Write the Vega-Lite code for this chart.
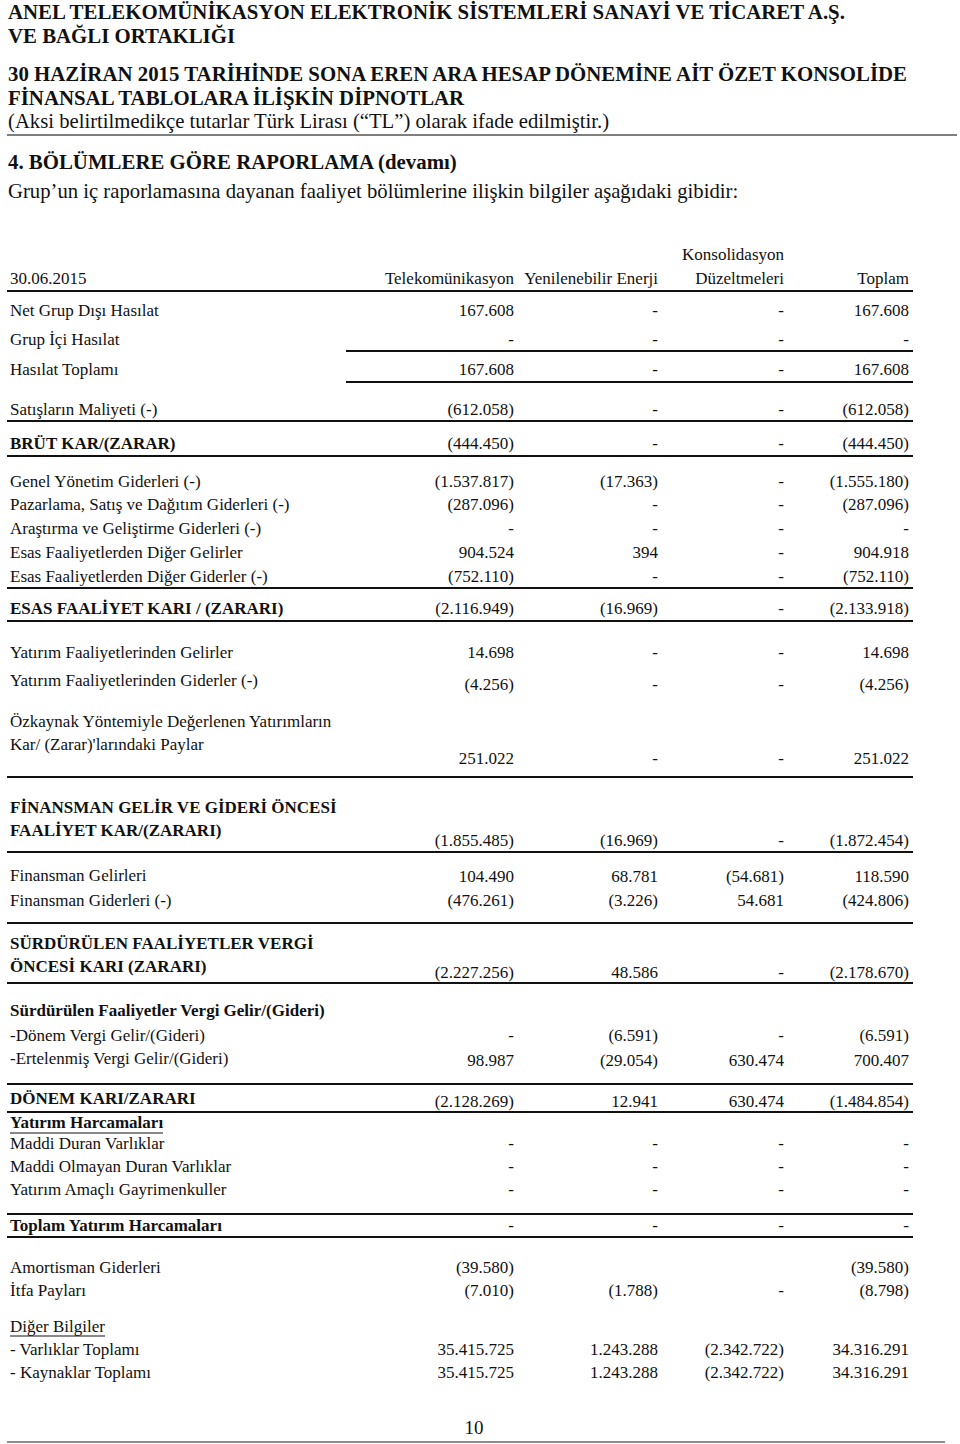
{
  "$schema": "https://vega.github.io/schema/vega-lite/v6.json",
  "width": 960,
  "height": 1444,
  "padding": 0,
  "autosize": {"type": "none"},
  "background": "white",
  "config": {"view": {"stroke": null}, "text": {"font": "Liberation Serif", "color": "#111111"}},
  "datasets": {
    "page": [
      {"text": "ANEL TELEKOMÜNİKASYON ELEKTRONİK SİSTEMLERİ SANAYİ VE TİCARET A.Ş.", "line": 13, "kind": "title"},
      {"text": "VE BAĞLI ORTAKLIĞI", "line": 37, "kind": "title"},
      {"text": "30 HAZİRAN 2015 TARİHİNDE SONA EREN ARA HESAP DÖNEMİNE AİT ÖZET KONSOLİDE", "line": 75, "kind": "title"},
      {"text": "FİNANSAL TABLOLARA İLİŞKİN DİPNOTLAR", "line": 99, "kind": "title"},
      {"text": "(Aksi belirtilmedikçe tutarlar Türk Lirası (“TL”) olarak ifade edilmiştir.)", "line": 122, "kind": "note"},
      {"text": "4. BÖLÜMLERE GÖRE RAPORLAMA (devamı)", "line": 163, "kind": "title"},
      {"text": "Grup’un iç raporlamasına dayanan faaliyet bölümlerine ilişkin bilgiler aşağıdaki gibidir:", "line": 192, "kind": "note"},
      {"text": "10", "line": 1428, "kind": "pageno"}
    ],
    "table": [
      {"item": "30.06.2015", "line": 279, "kind": "normal", "vline": 279, "tel": "Telekomünikasyon", "yen": "Yenilenebilir Enerji", "kon": "Düzeltmeleri", "top": "Toplam"},
      {"item": null, "line": 255, "kind": "normal", "vline": 255, "tel": null, "yen": null, "kon": "Konsolidasyon", "top": null},
      {"item": "Net Grup Dışı Hasılat", "line": 311, "kind": "normal", "vline": 311, "tel": "167.608", "yen": "-", "kon": "-", "top": "167.608"},
      {"item": "Grup İçi Hasılat", "line": 340, "kind": "normal", "vline": 340, "tel": "-", "yen": "-", "kon": "-", "top": "-"},
      {"item": "Hasılat Toplamı", "line": 370, "kind": "normal", "vline": 370, "tel": "167.608", "yen": "-", "kon": "-", "top": "167.608"},
      {"item": "Satışların Maliyeti (-)", "line": 410, "kind": "normal", "vline": 410, "tel": "(612.058)", "yen": "-", "kon": "-", "top": "(612.058)"},
      {"item": "BRÜT KAR/(ZARAR)", "line": 444, "kind": "bold", "vline": 444, "tel": "(444.450)", "yen": "-", "kon": "-", "top": "(444.450)"},
      {"item": "Genel Yönetim Giderleri (-)", "line": 482, "kind": "normal", "vline": 482, "tel": "(1.537.817)", "yen": "(17.363)", "kon": "-", "top": "(1.555.180)"},
      {"item": "Pazarlama, Satış ve Dağıtım Giderleri (-)", "line": 505, "kind": "normal", "vline": 505, "tel": "(287.096)", "yen": "-", "kon": "-", "top": "(287.096)"},
      {"item": "Araştırma ve Geliştirme Giderleri (-)", "line": 529, "kind": "normal", "vline": 529, "tel": "-", "yen": "-", "kon": "-", "top": "-"},
      {"item": "Esas Faaliyetlerden Diğer Gelirler", "line": 553, "kind": "normal", "vline": 553, "tel": "904.524", "yen": "394", "kon": "-", "top": "904.918"},
      {"item": "Esas Faaliyetlerden Diğer Giderler (-)", "line": 577, "kind": "normal", "vline": 577, "tel": "(752.110)", "yen": "-", "kon": "-", "top": "(752.110)"},
      {"item": "ESAS FAALİYET KARI / (ZARARI)", "line": 609, "kind": "bold", "vline": 609, "tel": "(2.116.949)", "yen": "(16.969)", "kon": "-", "top": "(2.133.918)"},
      {"item": "Yatırım Faaliyetlerinden Gelirler", "line": 653, "kind": "normal", "vline": 653, "tel": "14.698", "yen": "-", "kon": "-", "top": "14.698"},
      {"item": "Yatırım Faaliyetlerinden Giderler (-)", "line": 681, "kind": "normal", "vline": 685, "tel": "(4.256)", "yen": "-", "kon": "-", "top": "(4.256)"},
      {"item": "Özkaynak Yöntemiyle Değerlenen Yatırımların", "line": 722, "kind": "normal", "vline": 759, "tel": "251.022", "yen": "-", "kon": "-", "top": "251.022"},
      {"item": "Kar/ (Zarar)'larındaki Paylar", "line": 745, "kind": "normal", "vline": null, "tel": null, "yen": null, "kon": null, "top": null},
      {"item": "FİNANSMAN GELİR VE GİDERİ ÖNCESİ", "line": 808, "kind": "bold", "vline": 841, "tel": "(1.855.485)", "yen": "(16.969)", "kon": "-", "top": "(1.872.454)"},
      {"item": "FAALİYET KAR/(ZARARI)", "line": 831, "kind": "bold", "vline": null, "tel": null, "yen": null, "kon": null, "top": null},
      {"item": "Finansman Gelirleri", "line": 876, "kind": "normal", "vline": 877, "tel": "104.490", "yen": "68.781", "kon": "(54.681)", "top": "118.590"},
      {"item": "Finansman Giderleri (-)", "line": 901, "kind": "normal", "vline": 901, "tel": "(476.261)", "yen": "(3.226)", "kon": "54.681", "top": "(424.806)"},
      {"item": "SÜRDÜRÜLEN FAALİYETLER VERGİ", "line": 944, "kind": "bold", "vline": 973, "tel": "(2.227.256)", "yen": "48.586", "kon": "-", "top": "(2.178.670)"},
      {"item": "ÖNCESİ KARI (ZARARI)", "line": 967, "kind": "bold", "vline": null, "tel": null, "yen": null, "kon": null, "top": null},
      {"item": "Sürdürülen Faaliyetler Vergi Gelir/(Gideri)", "line": 1011, "kind": "bold", "vline": null, "tel": null, "yen": null, "kon": null, "top": null},
      {"item": "\u00a0-Dönem Vergi Gelir/(Gideri)", "line": 1036, "kind": "normal", "vline": 1036, "tel": "-", "yen": "(6.591)", "kon": "-", "top": "(6.591)"},
      {"item": "\u00a0-Ertelenmiş Vergi Gelir/(Gideri)", "line": 1059, "kind": "normal", "vline": 1061, "tel": "98.987", "yen": "(29.054)", "kon": "630.474", "top": "700.407"},
      {"item": "DÖNEM KARI/ZARARI", "line": 1099, "kind": "bold", "vline": 1102, "tel": "(2.128.269)", "yen": "12.941", "kon": "630.474", "top": "(1.484.854)"},
      {"item": "Yatırım Harcamaları", "line": 1123, "kind": "bold", "vline": null, "tel": null, "yen": null, "kon": null, "top": null},
      {"item": "Maddi Duran Varlıklar", "line": 1144, "kind": "normal", "vline": 1144, "tel": "-", "yen": "-", "kon": "-", "top": "-"},
      {"item": "Maddi Olmayan Duran Varlıklar", "line": 1167, "kind": "normal", "vline": 1167, "tel": "-", "yen": "-", "kon": "-", "top": "-"},
      {"item": "Yatırım Amaçlı Gayrimenkuller", "line": 1190, "kind": "normal", "vline": 1190, "tel": "-", "yen": "-", "kon": "-", "top": "-"},
      {"item": "Toplam Yatırım Harcamaları", "line": 1226, "kind": "bold", "vline": 1226, "tel": "-", "yen": "-", "kon": "-", "top": "-"},
      {"item": "Amortisman Giderleri", "line": 1268, "kind": "normal", "vline": 1268, "tel": "(39.580)", "yen": null, "kon": null, "top": "(39.580)"},
      {"item": "İtfa Payları", "line": 1291, "kind": "normal", "vline": 1291, "tel": "(7.010)", "yen": "(1.788)", "kon": "-", "top": "(8.798)"},
      {"item": "Diğer Bilgiler", "line": 1327, "kind": "normal", "vline": null, "tel": null, "yen": null, "kon": null, "top": null},
      {"item": "- Varlıklar Toplamı", "line": 1350, "kind": "normal", "vline": 1350, "tel": "35.415.725", "yen": "1.243.288", "kon": "(2.342.722)", "top": "34.316.291"},
      {"item": "- Kaynaklar Toplamı", "line": 1373, "kind": "normal", "vline": 1373, "tel": "35.415.725", "yen": "1.243.288", "kon": "(2.342.722)", "top": "34.316.291"}
    ],
    "rules": [
      {"line": 135, "span": "head"},
      {"line": 291, "span": "full"},
      {"line": 351, "span": "values"},
      {"line": 382, "span": "values"},
      {"line": 421, "span": "full"},
      {"line": 456, "span": "full"},
      {"line": 588, "span": "full"},
      {"line": 621, "span": "full"},
      {"line": 777, "span": "full"},
      {"line": 852, "span": "full"},
      {"line": 923, "span": "full"},
      {"line": 983, "span": "full"},
      {"line": 1084, "span": "full"},
      {"line": 1112, "span": "full"},
      {"line": 1133, "span": "ul1"},
      {"line": 1214, "span": "full"},
      {"line": 1237, "span": "full"},
      {"line": 1336, "span": "ul2"},
      {"line": 1442, "span": "foot"}
    ]
  },
  "layer": [
    {
      "data": {"name": "page"},
      "transform": [{"filter": "datum.kind == 'title'"}],
      "mark": {"type": "text", "align": "left", "baseline": "middle", "fontSize": 20.85, "fontWeight": "bold"},
      "encoding": {
        "x": {"datum": 8, "type": "quantitative", "scale": {"domain": [0, 960], "range": [0, 960], "nice": false, "zero": false}, "axis": null},
        "y": {"field": "line", "type": "quantitative", "scale": {"domain": [0, 1444], "range": [0, 1444], "nice": false, "zero": false}, "axis": null},
        "text": {"field": "text"}
      }
    },
    {
      "data": {"name": "page"},
      "transform": [{"filter": "datum.kind == 'note'"}],
      "mark": {"type": "text", "align": "left", "baseline": "middle", "fontSize": 20.7},
      "encoding": {
        "x": {"datum": 8, "type": "quantitative"},
        "y": {"field": "line", "type": "quantitative"},
        "text": {"field": "text"}
      }
    },
    {
      "data": {"name": "page"},
      "transform": [{"filter": "datum.kind == 'pageno'"}],
      "mark": {"type": "text", "align": "center", "baseline": "middle", "fontSize": 19},
      "encoding": {
        "x": {"datum": 474, "type": "quantitative"},
        "y": {"field": "line", "type": "quantitative"},
        "text": {"field": "text"}
      }
    },
    {
      "data": {"name": "table"},
      "transform": [{"filter": "datum.item != null && datum.kind == 'normal'"}],
      "mark": {"type": "text", "align": "left", "baseline": "middle", "fontSize": 17},
      "encoding": {
        "x": {"datum": 10, "type": "quantitative"},
        "y": {"field": "line", "type": "quantitative"},
        "text": {"field": "item"}
      }
    },
    {
      "data": {"name": "table"},
      "transform": [{"filter": "datum.item != null && datum.kind == 'bold'"}],
      "mark": {"type": "text", "align": "left", "baseline": "middle", "fontSize": 17, "fontWeight": "bold"},
      "encoding": {
        "x": {"datum": 10, "type": "quantitative"},
        "y": {"field": "line", "type": "quantitative"},
        "text": {"field": "item"}
      }
    },
    {
      "data": {"name": "table"},
      "transform": [{"filter": "datum.tel != null"}],
      "mark": {"type": "text", "align": "right", "baseline": "middle", "fontSize": 17},
      "encoding": {
        "x": {"datum": 514, "type": "quantitative"},
        "y": {"field": "vline", "type": "quantitative"},
        "text": {"field": "tel"}
      }
    },
    {
      "data": {"name": "table"},
      "transform": [{"filter": "datum.yen != null"}],
      "mark": {"type": "text", "align": "right", "baseline": "middle", "fontSize": 17},
      "encoding": {
        "x": {"datum": 658, "type": "quantitative"},
        "y": {"field": "vline", "type": "quantitative"},
        "text": {"field": "yen"}
      }
    },
    {
      "data": {"name": "table"},
      "transform": [{"filter": "datum.kon != null"}],
      "mark": {"type": "text", "align": "right", "baseline": "middle", "fontSize": 17},
      "encoding": {
        "x": {"datum": 784, "type": "quantitative"},
        "y": {"field": "vline", "type": "quantitative"},
        "text": {"field": "kon"}
      }
    },
    {
      "data": {"name": "table"},
      "transform": [{"filter": "datum.top != null"}],
      "mark": {"type": "text", "align": "right", "baseline": "middle", "fontSize": 17},
      "encoding": {
        "x": {"datum": 909, "type": "quantitative"},
        "y": {"field": "vline", "type": "quantitative"},
        "text": {"field": "top"}
      }
    },
    {
      "data": {"name": "rules"},
      "transform": [{"filter": "datum.span == 'full'"}],
      "mark": {"type": "rule", "color": "#111111", "strokeWidth": 2},
      "encoding": {
        "x": {"datum": 7, "type": "quantitative"},
        "x2": {"datum": 913},
        "y": {"field": "line", "type": "quantitative"}
      }
    },
    {
      "data": {"name": "rules"},
      "transform": [{"filter": "datum.span == 'values'"}],
      "mark": {"type": "rule", "color": "#111111", "strokeWidth": 2},
      "encoding": {
        "x": {"datum": 346, "type": "quantitative"},
        "x2": {"datum": 913},
        "y": {"field": "line", "type": "quantitative"}
      }
    },
    {
      "data": {"name": "rules"},
      "transform": [{"filter": "datum.span == 'head'"}],
      "mark": {"type": "rule", "color": "#555555", "strokeWidth": 1.5},
      "encoding": {
        "x": {"datum": 7, "type": "quantitative"},
        "x2": {"datum": 957},
        "y": {"field": "line", "type": "quantitative"}
      }
    },
    {
      "data": {"name": "rules"},
      "transform": [{"filter": "datum.span == 'foot'"}],
      "mark": {"type": "rule", "color": "#666666", "strokeWidth": 1.5},
      "encoding": {
        "x": {"datum": 7, "type": "quantitative"},
        "x2": {"datum": 945},
        "y": {"field": "line", "type": "quantitative"}
      }
    },
    {
      "data": {"name": "rules"},
      "transform": [{"filter": "datum.span == 'ul1'"}],
      "mark": {"type": "rule", "color": "#111111", "strokeWidth": 1},
      "encoding": {
        "x": {"datum": 10, "type": "quantitative"},
        "x2": {"datum": 163},
        "y": {"field": "line", "type": "quantitative"}
      }
    },
    {
      "data": {"name": "rules"},
      "transform": [{"filter": "datum.span == 'ul2'"}],
      "mark": {"type": "rule", "color": "#111111", "strokeWidth": 1},
      "encoding": {
        "x": {"datum": 10, "type": "quantitative"},
        "x2": {"datum": 105},
        "y": {"field": "line", "type": "quantitative"}
      }
    }
  ]
}
